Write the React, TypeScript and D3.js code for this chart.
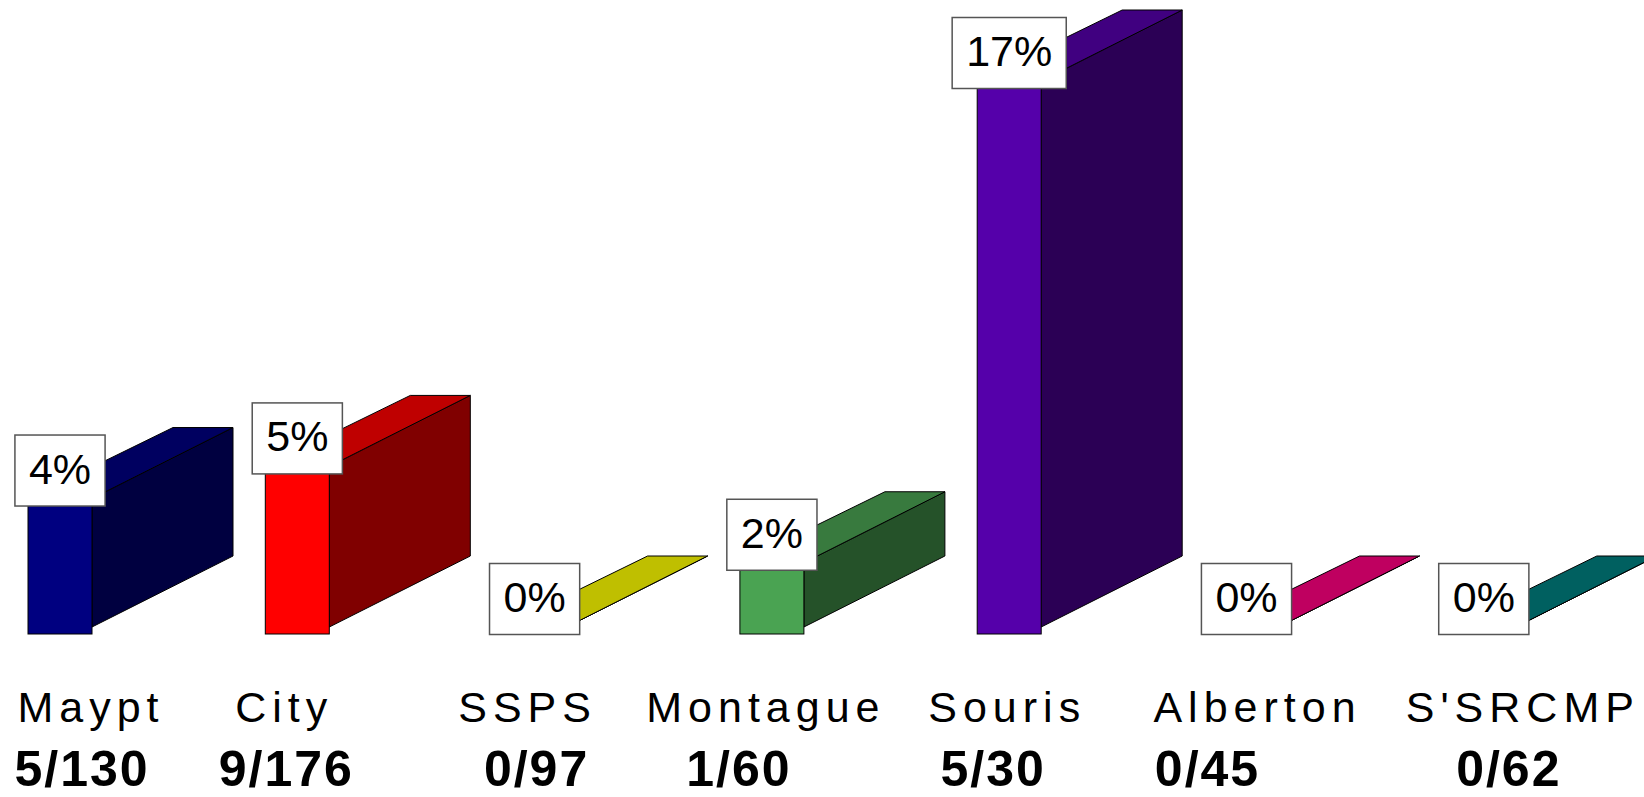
import React, { useEffect, useRef } from 'react';
import * as d3 from 'd3';

// ---- data ----
const categories = ["Maypt", "City", "SSPS", "Montague", "Souris", "Alberton", "S'SRCMP"];
const positives = [5, 9, 0, 1, 5, 0, 0];
const totals = [130, 176, 97, 60, 30, 45, 62];
const frontColors = ["#000080", "#FF0000", "#FFFF00", "#4AA352", "#5500AA", "#FF0080", "#008080"];

// ---- layout (not data) ----
const labelNudge = [28, -16, -10, -9, -5, 8, 36];
const countNudge = [21, -12, 1, -34, -17, -40, 24];
const W = 1644;
const H = 797;
const FRONT_W = 64;
const DXL = 145;
const DXR = 141;
const DY = 71;
const FLOOR = 7;

export default function App() {
  const ref = useRef<SVGSVGElement | null>(null);

  useEffect(() => {
    document.body.style.margin = '0';
    const svg = d3.select(ref.current);
    svg.selectAll('*').remove();

    const pct = positives.map((p, i) => Math.round((p / totals[i]) * 100));

    const x = d3.scaleBand<string>().domain(categories).range([28, 28 + 237.3 * categories.length]).paddingInner(0).paddingOuter(0);
    const y = d3.scaleLinear().domain([0, 17]).range([627, 81]);
    const y0 = y(0);

    const bars = svg.append('g');
    categories.forEach((c, i) => {
      const x0 = x(c)!;
      const x1 = x0 + FRONT_W;
      const yt = y(pct[i]);
      const base = d3.color(frontColors[i])!.rgb();
      const top = d3.rgb(base.r * 0.75, base.g * 0.75, base.b * 0.75).toString();
      const side = d3.rgb(base.r * 0.5, base.g * 0.5, base.b * 0.5).toString();
      const g = bars.append('g');
      const line = (pts: [number, number][]) => 'M' + pts.map(p => p.join(',')).join('L') + 'Z';
      g.append('path')
        .attr('d', line([[x1, yt], [x1 + DXR, yt - DY], [x1 + DXR, y0 - DY], [x1, y0]]))
        .attr('fill', side).attr('stroke', '#000').attr('stroke-width', 1).attr('stroke-linejoin', 'round');
      g.append('path')
        .attr('d', line([[x0, yt], [x1, yt], [x1 + DXR, yt - DY], [x0 + DXL, yt - DY]]))
        .attr('fill', top).attr('stroke', '#000').attr('stroke-width', 1).attr('stroke-linejoin', 'round');
      g.append('rect')
        .attr('x', x0).attr('y', yt).attr('width', FRONT_W).attr('height', y0 + FLOOR - yt)
        .attr('fill', frontColors[i]).attr('stroke', '#000').attr('stroke-width', 1);
    });

    // value labels
    const labels = svg.append('g');
    categories.forEach((c, i) => {
      const cx = x(c)! + FRONT_W / 2;
      const cy = y(pct[i]) - 28;
      const g = labels.append('g');
      const rect = g.append('rect');
      const t = g.append('text')
        .attr('x', cx).attr('y', cy + 13)
        .attr('text-anchor', 'middle')
        .attr('font-family', "'Liberation Sans', Arial, sans-serif")
        .attr('font-size', 43)
        .attr('fill', '#000')
        .text(`${pct[i]}%`);
      const tw = (t.node() as SVGTextElement).getComputedTextLength();
      const bw = tw + 28;
      rect.attr('x', cx - bw / 2).attr('y', cy - 35.5).attr('width', bw).attr('height', 71)
        .attr('fill', '#fff').attr('stroke', '#555').attr('stroke-width', 1.5);
    });

    // category names
    const names = svg.append('g');
    categories.forEach((c, i) => {
      const cx = x(c)! + FRONT_W / 2 + labelNudge[i];
      names.append('text')
        .attr('x', cx + 3).attr('y', 722)
        .attr('text-anchor', 'middle')
        .attr('font-family', "'Liberation Sans', Arial, sans-serif")
        .attr('font-size', 43)
        .attr('letter-spacing', 6)
        .attr('fill', '#000')
        .text(c);
    });

    // counts
    const counts = svg.append('g');
    categories.forEach((c, i) => {
      const cx = x(c)! + FRONT_W / 2 + countNudge[i];
      counts.append('text')
        .attr('x', cx + 1).attr('y', 786)
        .attr('text-anchor', 'middle')
        .attr('font-family', "'Liberation Sans', Arial, sans-serif")
        .attr('font-weight', 'bold')
        .attr('font-size', 50)
        .attr('letter-spacing', 2)
        .attr('fill', '#000')
        .text(`${positives[i]}/${totals[i]}`);
    });
  }, []);

  return (
    <svg ref={ref} width={W} height={H} style={{ display: 'block', position: 'absolute', left: 0, top: 0, background: '#fff' }} />
  );
}
